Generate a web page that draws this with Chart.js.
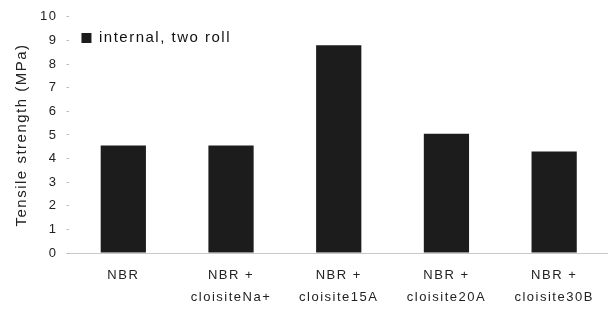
<!DOCTYPE html>
<html>
<head>
<meta charset="utf-8">
<script src="https://cdn.jsdelivr.net/npm/chart.js@4"></script>
<style>
  html, body { margin: 0; padding: 0; background: #fff; }
  #wrap { width: 608px; height: 314px; }
</style>
</head>
<body>
<div id="wrap"><canvas id="c"></canvas></div>
<script>
// Données
const categories = [['NBR'], ['NBR +', 'cloisiteNa+'], ['NBR +', 'cloisite15A'], ['NBR +', 'cloisite20A'], ['NBR +', 'cloisite30B']];
const tensile = [4.55, 4.55, 8.8, 5.05, 4.3];
const seriesName = 'internal, two roll';

// espacement des lettres, comme sur la figure d'origine
const spacing = {
    id: 'spacing',
    beforeLayout(chart) { chart.ctx.letterSpacing = '1.5px'; },
    beforeDraw(chart) { chart.ctx.letterSpacing = '1.5px'; }
};

const ctx = document.getElementById('c').getContext('2d');
new Chart(ctx, {
    type: 'bar',
    data: {
        labels: categories,
        datasets: [{
            label: seriesName,
            data: tensile,
            backgroundColor: '#1c1c1c',
            borderWidth: 0,
            barPercentage: 0.42,
            categoryPercentage: 1
        }]
    },
    options: {
        responsive: true,
        maintainAspectRatio: false,
        animation: false,
        layout: { padding: { top: 6, right: 0, left: 13, bottom: 2 } },
        plugins: {
            legend: {
                position: 'chartArea',
                align: 'start',
                title: { display: true, text: ' ', padding: { top: 0, bottom: 4 }, font: { size: 12 } },
                labels: {
                    boxWidth: 10,
                    boxHeight: 10,
                    color: '#111',
                    font: { family: 'Liberation Sans, Arial', size: 15 },
                    padding: 12
                }
            },
            tooltip: { enabled: false }
        },
        scales: {
            y: {
                min: 0,
                max: 10,
                ticks: {
                    stepSize: 1,
                    color: '#222',
                    padding: 9,
                    font: { family: 'Liberation Sans, Arial', size: 13 }
                },
                grid: { display: true, drawOnChartArea: false, tickLength: 3, color: '#bbb' },
                border: { display: false },
                title: {
                    display: true,
                    text: 'Tensile strength (MPa)',
                    color: '#222',
                    padding: 0,
                    font: { family: 'Liberation Sans, Arial', size: 15 }
                }
            },
            x: {
                ticks: {
                    color: '#222',
                    padding: 4,
                    maxRotation: 0,
                    font: { family: 'Liberation Sans, Arial', size: 13, lineHeight: 1.65 }
                },
                grid: { display: false },
                border: { display: true, color: '#c8c8c8', dash: [2, 3] }
            }
        }
    },
    plugins: [spacing]
});
</script>
</body>
</html>
